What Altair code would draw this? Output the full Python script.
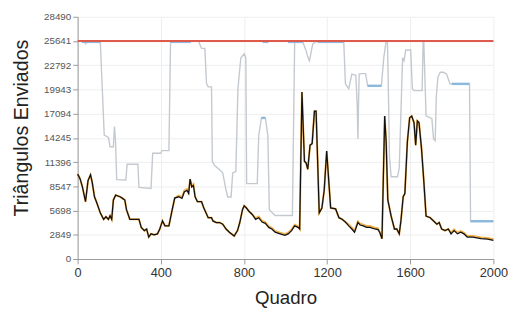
import altair as alt
import pandas as pd

# ---- data ----
black_x = [0, 12, 23, 38, 50, 62, 70, 81, 93, 109, 125, 136, 148, 156, 164, 172, 183, 204, 216, 227,
           235, 251, 282, 295, 306, 321, 332, 342, 353, 368, 384, 395, 408, 420, 439, 455, 467, 486, 502, 513,
           526, 534, 541, 549, 557, 565, 576, 596, 607, 628, 644, 651, 667, 683, 698, 714, 730, 753, 769, 780,
           793, 801, 812, 824, 840, 856, 871, 887, 903, 919, 934, 950, 974, 997, 1013, 1029, 1044, 1060, 1068, 1079,
           1091, 1099, 1107, 1118, 1128, 1139, 1147, 1154, 1162, 1175, 1186, 1198, 1210, 1217, 1241, 1257, 1272, 1288, 1304, 1319,
           1332, 1348, 1359, 1374, 1390, 1406, 1429, 1445, 1453, 1464, 1477, 1484, 1492, 1508, 1524, 1535, 1547, 1555, 1566, 1574,
           1586, 1597, 1607, 1618, 1626, 1634, 1642, 1654, 1665, 1676, 1696, 1712, 1728, 1739, 1751, 1767, 1783, 1796, 1811, 1827,
           1843, 1858, 1874, 1901, 1940, 1972, 2000]
black_y = [9980, 9420, 8480, 6750, 9220, 9900, 9030, 7320, 6560, 5430, 4670, 4970, 4670, 5090, 4670, 6940, 7510, 7320, 7130, 6940,
           5800, 4670, 4670, 4670, 3720, 3340, 3520, 2580, 2960, 2850, 2960, 3520, 4480, 3900, 3900, 5800, 7170, 7320, 7130, 7890,
           8080, 7700, 9410, 8460, 8650, 7320, 6750, 6750, 6000, 4860, 4860, 4480, 4290, 4290, 4100, 3530, 3150, 2700, 3340, 4290,
           5800, 6260, 6000, 5620, 5240, 4670, 4860, 4350, 4200, 3720, 3530, 3150, 2960, 2790, 2960, 3340, 3900, 3720, 3530, 19650,
           11490, 11300, 10550, 13390, 13580, 17380, 17380, 11870, 5430, 6000, 8080, 12710, 8460, 6000, 5890, 4860, 4670, 4350, 3900, 3530,
           3150, 4290, 4000, 3900, 3720, 3720, 3530, 3450, 3150, 2390, 16810, 13770, 6940, 5040, 3530, 3530, 2960, 4480, 7320, 7700,
           13770, 16610, 16810, 16050, 13390, 16240, 16050, 13010, 9220, 5040, 4860, 4480, 4100, 4290, 3530, 3340, 3530, 2960, 3340, 2960,
           3150, 2960, 2580, 2580, 2390, 2330, 2200]
orange_y = [10050, 9420, 8480, 6750, 9220, 9900, 9030, 7320, 6560, 5430, 4670, 4970, 4670, 5090, 4670, 6940, 7510, 7320, 7130, 6940,
            5800, 4670, 4670, 4670, 3720, 3340, 3520, 2580, 2960, 2850, 2960, 3520, 4480, 3900, 3900, 5800, 7170, 7470, 7290, 8030,
            8230, 7850, 9410, 8600, 8800, 7320, 6750, 6750, 6000, 4860, 4860, 4480, 4290, 4290, 4100, 3530, 3150, 2700, 3340, 4290,
            5800, 6260, 6000, 5620, 5240, 4800, 4990, 4480, 4330, 3850, 3660, 3280, 3090, 2920, 3090, 3470, 4030, 3850, 3530, 19650,
            11490, 11300, 10550, 13390, 13580, 17380, 17380, 11870, 5430, 6000, 8080, 12710, 8460, 6000, 5890, 4860, 4670, 4350, 4050, 3680,
            3300, 4440, 4150, 4050, 3870, 3870, 3680, 3600, 3150, 2390, 16810, 13770, 6940, 5040, 3530, 3530, 2960, 4480, 7320, 7700,
            13770, 16610, 16810, 16050, 13390, 16240, 16050, 13010, 9220, 5040, 4860, 4480, 4100, 4290, 3530, 3340, 3530, 3090, 3470, 3090,
            3280, 3090, 2710, 2710, 2520, 2460, 2330]

gray_x = [0, 35, 39, 43, 109, 128, 148, 156, 172, 177, 182, 188, 232, 238, 290, 295, 353, 361, 400, 405,
          439, 447, 581, 596, 612, 620, 628, 644, 648, 659, 683, 698, 711, 722, 738, 746, 761, 771, 785, 801,
          809, 813, 864, 871, 884, 903, 915, 922, 934, 950, 1033, 1044, 1083, 1099, 1107, 1115, 1131, 1154, 1280, 1288,
          1304, 1319, 1338, 1345, 1348, 1354, 1367, 1385, 1395, 1461, 1473, 1484, 1490, 1494, 1500, 1508, 1539, 1547, 1563, 1570,
          1578, 1602, 1610, 1618, 1657, 1662, 1665, 1676, 1704, 1712, 1720, 1725, 1733, 1744, 1760, 1775, 1791, 1885, 1890, 2000]
gray_y = [25641, 25641, 25250, 25641, 25641, 14566, 14300, 13200, 13200, 15590, 14000, 9330, 9300, 11150, 11150, 8420, 8300, 12440, 12440, 12750,
          12750, 25641, 25641, 24770, 24770, 20600, 20250, 20250, 11490, 11000, 10500, 10130, 8420, 7290, 7290, 10130, 10300, 20000, 23670, 24130,
          23670, 8870, 8870, 14500, 16600, 16600, 14500, 5800, 5500, 5120, 5120, 25530, 25530, 24500, 23780, 23300, 25300, 25641, 25641, 20600,
          20030, 21740, 21600, 18000, 14110, 21740, 21800, 21800, 20370, 20370, 23780, 25641, 25641, 21000, 12000, 9670, 9670, 10700, 23670, 23300,
          24580, 24580, 20030, 19800, 19800, 25641, 25641, 16840, 16500, 14110, 13900, 19000, 21400, 21960, 21960, 21740, 20600, 20600, 4440, 4440]

blue_x = [20, 109, 447, 545, 884, 903, 890, 918, 1012, 1083, 1154, 1280, 1395, 1461, 1799, 1885, 1890, 2000]
blue_y = [25540, 25540, 25540, 25540, 16600, 16600, 25540, 25540, 25540, 25540, 25540, 25540, 20370, 20370, 20600, 20600, 4440, 4440]
blue_seg = [1, 1, 2, 2, 3, 3, 4, 4, 5, 5, 6, 6, 7, 7, 8, 8, 9, 9]

red_x = [0, 2000]
red_y = [25641, 25641]

y_ticks = [0, 2849, 5698, 8547, 11396, 14245, 17094, 19943, 22792, 25641, 28490]
x_ticks = [0, 400, 800, 1200, 1600, 2000]

df_black = pd.DataFrame({"x": black_x, "y": black_y})
df_orange = pd.DataFrame({"x": black_x, "y": orange_y})
df_gray = pd.DataFrame({"x": gray_x, "y": gray_y})
df_blue = pd.DataFrame({"x": blue_x, "y": blue_y, "seg": blue_seg})
df_red = pd.DataFrame({"x": red_x, "y": red_y})

FONT = "Liberation Sans"

xscale = alt.Scale(domain=[0, 2000], nice=False)
yscale = alt.Scale(domain=[0, 28490], nice=False)

xax = alt.Axis(values=x_ticks, format="d", title="Quadro", labelFontSize=13, labelColor="#333333",
               titleFontSize=19, titleFontWeight="normal", titleColor="#222222",
               labelFlush=False, labelOverlap=False, titlePadding=9, tickSize=5, labelPadding=3)
yax = alt.Axis(values=y_ticks, format="d", title="Triângulos Enviados", labelFontSize=10, labelColor="#555555",
               titleFontSize=20, titleFontWeight="normal", titleColor="#222222",
               titleX=-57, titleY=113, titleAngle=-90, titleAlign="center", titleBaseline="middle",
               labelFlush=False, labelOverlap=False, tickSize=5, labelPadding=2)

gray = alt.Chart(df_gray).mark_line(color="#c3c9cf", strokeWidth=1.4).encode(
    x=alt.X("x:Q", scale=xscale, axis=xax),
    y=alt.Y("y:Q", scale=yscale, axis=yax),
    order="x:Q",
)
blue = alt.Chart(df_blue).mark_line(color="#8db9df", strokeWidth=2.5).encode(
    x=alt.X("x:Q", scale=xscale, axis=xax),
    y=alt.Y("y:Q", scale=yscale, axis=yax),
    detail="seg:N",
)
orange = alt.Chart(df_orange).mark_line(color="#f2b04a", strokeWidth=2).encode(
    x=alt.X("x:Q", scale=xscale, axis=xax),
    y=alt.Y("y:Q", scale=yscale, axis=yax),
)
black = alt.Chart(df_black).mark_line(color="#111111", strokeWidth=1.3).encode(
    x=alt.X("x:Q", scale=xscale, axis=xax),
    y=alt.Y("y:Q", scale=yscale, axis=yax),
)
red = alt.Chart(df_red).mark_line(color="#dd5a4c", strokeWidth=2).encode(
    x=alt.X("x:Q", scale=xscale, axis=xax),
    y=alt.Y("y:Q", scale=yscale, axis=yax),
)

chart = alt.layer(gray, blue, orange, black, red).properties(
    width=424, height=247, autosize="none",
    padding={"left": 71, "top": 6, "right": 22, "bottom": 47},
).configure_axis(
    labelFont=FONT, titleFont=FONT, gridColor="#eeeeee", domainColor="#999999", tickColor="#999999",
    labelOverlap=False,
).configure_view(stroke=None)

chart.save("out.html", embed_options={"renderer": "svg", "actions": False})
